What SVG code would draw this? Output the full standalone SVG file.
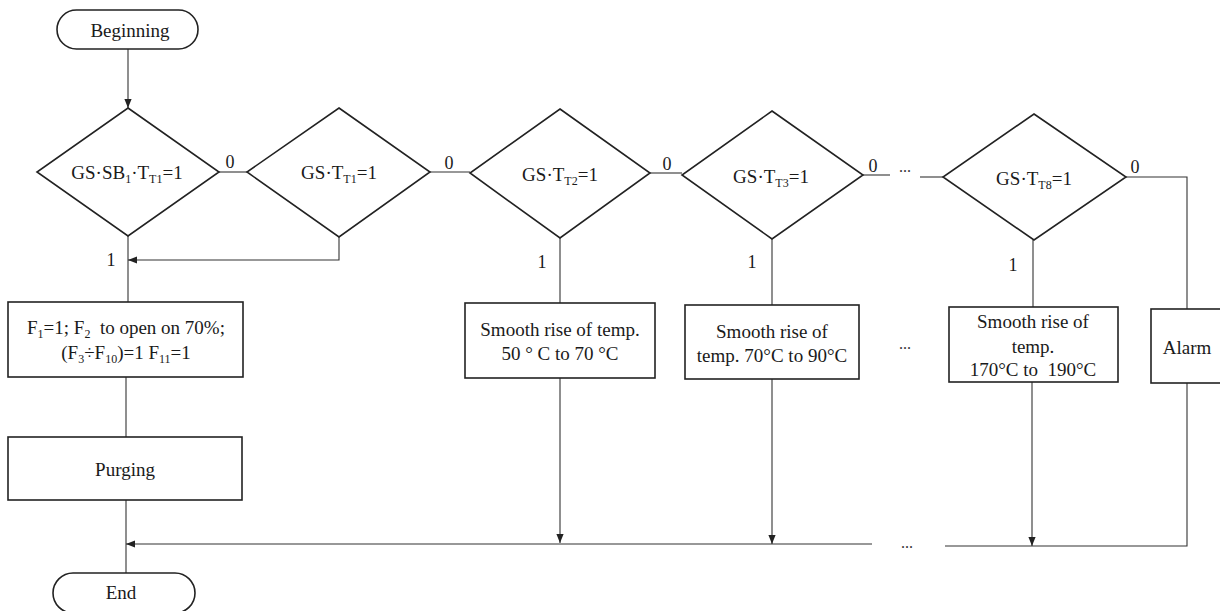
<svg xmlns="http://www.w3.org/2000/svg" width="1220" height="611" viewBox="0 0 1220 611">
<defs>
<marker id="ah" viewBox="0 0 10 10" refX="10" refY="5" markerWidth="9" markerHeight="9" markerUnits="userSpaceOnUse" orient="auto">
<path d="M0,1 L10,5 L0,9 Z" fill="#222"/>
</marker>
<style>
.s{fill:#fff;stroke:#222;stroke-width:1.6}
.c{fill:none;stroke:#333;stroke-width:1.1}
.t{font-family:"Liberation Serif","Times New Roman",serif;font-size:19px;fill:#1a1a1a;text-anchor:middle}
.l{font-family:"Liberation Serif","Times New Roman",serif;font-size:18px;fill:#1a1a1a;text-anchor:middle}
.d{font-family:"Liberation Serif","Times New Roman",serif;font-size:16px;fill:#333;text-anchor:middle}
.sub{font-size:12px}
</style>
</defs>
<rect width="1220" height="611" fill="#fff"/>

<g id="connectors">
<path class="c" d="M128,49 V108" marker-end="url(#ah)"/>
<path class="c" d="M219,172 H247"/>
<path class="c" d="M430,172 H470"/>
<path class="c" d="M650,173 H682"/>
<path class="c" d="M863,175 H890"/>
<path class="c" d="M920,177 H943"/>
<path class="c" d="M1126,177 H1187 V309"/>
<path class="c" d="M339,237 V260 H128" marker-end="url(#ah)"/>
<path class="c" d="M128,236 V302"/>
<path class="c" d="M126,377 V437"/>
<path class="c" d="M126,500 V573"/>
<path class="c" d="M560,238 V303"/>
<path class="c" d="M772,239 V305"/>
<path class="c" d="M1033,240 V307"/>
<path class="c" d="M560,378 V543" marker-end="url(#ah)"/>
<path class="c" d="M772,379 V544" marker-end="url(#ah)"/>
<path class="c" d="M1032,382 V546" marker-end="url(#ah)"/>
<path class="c" d="M1187,383 V546 H945"/>
<path class="c" d="M872,544 H126" marker-end="url(#ah)"/>
<text class="l" x="230" y="168">0</text>
<text class="l" x="449" y="169">0</text>
<text class="l" x="667" y="170">0</text>
<text class="l" x="873" y="172">0</text>
<text class="l" x="1135" y="173">0</text>
<text class="l" x="111" y="266">1</text>
<text class="l" x="542" y="268">1</text>
<text class="l" x="752" y="268">1</text>
<text class="l" x="1013" y="271">1</text>
<text class="d" x="905" y="172">...</text>
<text class="d" x="905" y="349">...</text>
<text class="d" x="907" y="548">...</text>
</g>

<g id="beginning">
<rect class="s" x="57" y="10" width="141" height="39" rx="19.5"/>
<text class="t" x="130" y="37">Beginning</text>
</g>

<g id="d1">
<polygon class="s" points="128,108 219,172 128,236 37,172"/>
<text class="t" x="127" y="179">GS·SB<tspan class="sub" baseline-shift="-4">1</tspan>·T<tspan class="sub" baseline-shift="-4">T1</tspan>=1</text>
</g>

<g id="d2">
<polygon class="s" points="339,108 430,172 339,237 247,172"/>
<text class="t" x="339" y="179">GS·T<tspan class="sub" baseline-shift="-4">T1</tspan>=1</text>
</g>

<g id="d3">
<polygon class="s" points="560,109 650,173 560,238 470,173"/>
<text class="t" x="560" y="181">GS·T<tspan class="sub" baseline-shift="-4">T2</tspan>=1</text>
</g>

<g id="d4">
<polygon class="s" points="772,111 863,175 772,239 682,175"/>
<text class="t" x="771" y="183">GS·T<tspan class="sub" baseline-shift="-4">T3</tspan>=1</text>
</g>

<g id="d5">
<polygon class="s" points="1034,114 1126,177 1034,240 943,177"/>
<text class="t" x="1034" y="185">GS·T<tspan class="sub" baseline-shift="-4">T8</tspan>=1</text>
</g>

<g id="boxF">
<rect class="s" x="8" y="302" width="235" height="75"/>
<text class="t" x="126" y="334">F<tspan class="sub" baseline-shift="-4">1</tspan>=1; F<tspan class="sub" baseline-shift="-4">2</tspan>&#160; to open on 70%;</text>
<text class="t" x="126" y="359">(F<tspan class="sub" baseline-shift="-4">3</tspan>÷F<tspan class="sub" baseline-shift="-4">10</tspan>)=1 F<tspan class="sub" baseline-shift="-4">11</tspan>=1</text>
</g>

<g id="purging">
<rect class="s" x="8" y="437" width="234" height="63"/>
<text class="t" x="125" y="476">Purging</text>
</g>

<g id="end">
<rect class="s" x="53" y="573" width="142" height="40" rx="20"/>
<text class="t" x="121" y="599">End</text>
</g>

<g id="box1">
<rect class="s" x="465" y="303" width="190" height="75"/>
<text class="t" x="560" y="336">Smooth rise of temp.</text>
<text class="t" x="560" y="360">50 ° C to 70 °C</text>
</g>

<g id="box2">
<rect class="s" x="685" y="305" width="174" height="74"/>
<text class="t" x="772" y="338">Smooth rise of</text>
<text class="t" x="772" y="362">temp. 70°C to 90°C</text>
</g>

<g id="box3">
<rect class="s" x="949" y="307" width="169" height="75"/>
<text class="t" x="1033" y="328">Smooth rise of</text>
<text class="t" x="1033" y="353">temp.</text>
<text class="t" x="1033" y="376">170°C to&#160; 190°C</text>
</g>

<g id="alarm">
<rect class="s" x="1151" y="309" width="80" height="74"/>
<text class="t" x="1187" y="354">Alarm</text>
</g>
</svg>
